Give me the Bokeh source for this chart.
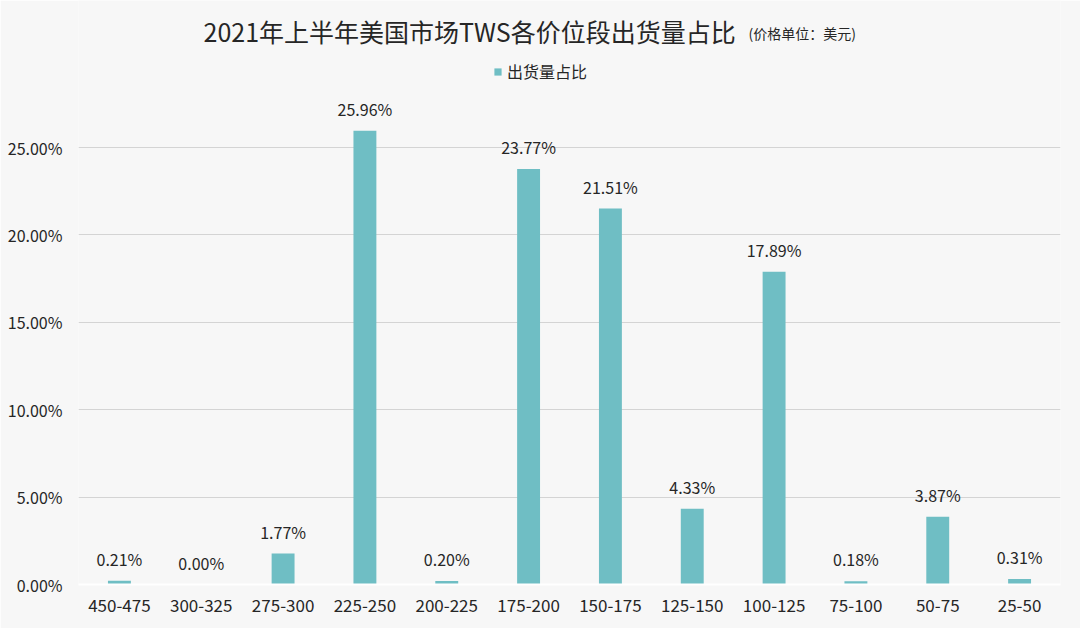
from bokeh.plotting import figure
from bokeh.models import ColumnDataSource, FactorRange, Range1d, Label, Legend, LegendItem, FixedTicker, NumeralTickFormatter
from bokeh.core.properties import value
from bokeh.embed import file_html
from bokeh.resources import INLINE

categories = ["450-475", "300-325", "275-300", "225-250", "200-225", "175-200",
              "150-175", "125-150", "100-125", "75-100", "50-75", "25-50"]
shares = [0.21, 0.00, 1.77, 25.96, 0.20, 23.77, 21.51, 4.33, 17.89, 0.18, 3.87, 0.31]
y_ticks = [0, 5, 10, 15, 20, 25]

FONT = "Noto Sans CJK SC"
BAR = "#6fbec4"
BG = "#f7f7f7"
TXT = "#262626"

src = ColumnDataSource(dict(
    cat=categories,
    val=[v / 100 for v in shares],
    lab=["%.2f%%" % v for v in shares],
))

W, H = 1080, 628
ML, MR, MT, MB = 78, 20, 0, 44
YMAX = (H - MB - MT) / 1748.0  # keeps 25% at the reference gridline position

p = figure(width=W, height=H, x_range=FactorRange(*categories), y_range=Range1d(0, YMAX),
           output_backend="svg", toolbar_location=None,
           min_border_left=ML, min_border_right=MR, min_border_top=MT, min_border_bottom=MB,
           background_fill_color=BG, border_fill_color=BG, outline_line_color=None)

r = p.vbar(x="cat", top="val", width=0.28, source=src, fill_color=BAR, line_color=None)
p.text(x="cat", y="val", text="lab", source=src, text_align="center", text_baseline="bottom",
       y_offset=-10, text_font=value(FONT), text_font_size="16px", text_color=TXT)

p.yaxis.ticker = FixedTicker(ticks=[t / 100 for t in y_ticks])
p.yaxis.formatter = NumeralTickFormatter(format="0.00%")
p.yaxis.axis_line_color = None
p.yaxis.major_tick_line_color = None
p.yaxis.minor_tick_line_color = None
p.yaxis.major_label_standoff = 10
p.yaxis.major_label_text_font = FONT
p.yaxis.major_label_text_font_size = "16px"
p.yaxis.major_label_text_color = TXT

p.xaxis.axis_line_color = "white"
p.xaxis.axis_line_width = 2
p.xaxis.major_tick_line_color = None
p.xaxis.minor_tick_line_color = None
p.xaxis.major_label_standoff = 8
p.xaxis.major_label_text_font = FONT
p.xaxis.major_label_text_font_size = "17px"
p.xaxis.major_label_text_color = TXT

p.xgrid.grid_line_color = None
p.ygrid.grid_line_color = "#d4d4d4"
p.ygrid.grid_line_width = 1

fl, fr, fb, ft = ML, W - MR, H - MB, MT
def dx(px):
    return (px - fl) / (fr - fl) * len(categories)
def dy(py):
    return (fb - py) / (fb - ft) * YMAX

p.add_layout(Label(x=dx(203), y=dy(30), text="2021年上半年美国市场TWS各价位段出货量占比",
                   text_font=FONT, text_font_size="25px", text_color=TXT,
                   text_align="left", text_baseline="middle"))
p.add_layout(Label(x=dx(748), y=dy(32), text="(价格单位：美元)",
                   text_font=FONT, text_font_size="14px", text_color=TXT,
                   text_align="left", text_baseline="middle"))

leg = Legend(items=[LegendItem(label="出货量占比", renderers=[r])],
             location=(493 - fl, fb - 83), orientation="horizontal",
             glyph_width=9, glyph_height=9, label_standoff=5, padding=0, margin=0,
             label_text_font=FONT, label_text_font_size="16px", label_text_color=TXT,
             label_height=18, border_line_color=None, background_fill_alpha=0)
p.add_layout(leg)

open("out.html", "w").write(file_html(p, INLINE))
